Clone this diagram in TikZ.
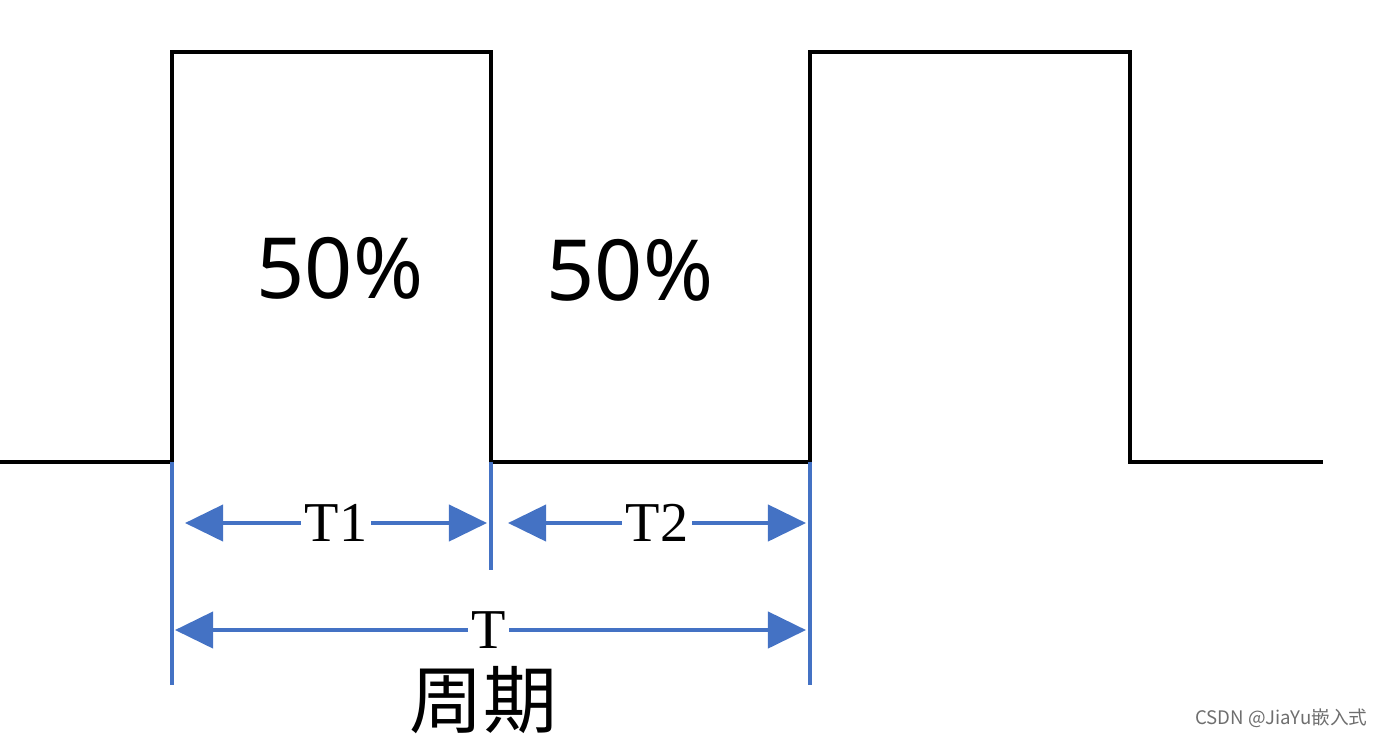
\documentclass[tikz,border=0pt]{standalone}
\usepackage{fontspec}
\setmainfont{Liberation Serif}
\newfontfamily\pctfont{Noto Sans}
\newfontfamily\cjkfont{Noto Sans CJK SC}
\usetikzlibrary{arrows.meta}

\begin{document}
\begin{tikzpicture}[x=0.01cm, y=-0.01cm, line cap=butt, line join=miter]

% Colors
\definecolor{dimblue}{RGB}{68,114,196}
\definecolor{markgray}{RGB}{110,110,110}

\tikzset{
  wave/.style={line width=1.4pt, black},
  guide/.style={line width=0.9pt, dimblue},
  dimarrow/.style={line width=1.2pt, dimblue,
    {Triangle[length=3.8mm, width=3.6mm]}-{Triangle[length=3.8mm, width=3.6mm]}},
  dimlabel/.style={fill=white, text=black, inner sep=1pt, font=\fontsize{16}{16}\selectfont},
  duty/.style={font=\pctfont\fontsize{24}{24}\selectfont},
}

\useasboundingbox (0,0) rectangle (1383,739);

% Waveform corners
\coordinate (w0) at (0,462);
\coordinate (r1a) at (172,462);
\coordinate (r1b) at (172,52);
\coordinate (f1a) at (491,52);
\coordinate (f1b) at (491,462);
\coordinate (r2a) at (810,462);
\coordinate (r2b) at (810,52);
\coordinate (f2a) at (1130,52);
\coordinate (f2b) at (1130,462);
\coordinate (w1) at (1323,462);

% Square wave
\draw[wave] (w0) -- (r1a) -- (r1b) -- (f1a) -- (f1b) -- (r2a) -- (r2b) -- (f2a) -- (f2b) -- (w1);

% Duty labels
\node[duty] (hi) at (340,268) {50\%};
\node[duty] (lo) at (630,270) {50\%};

% Guide lines
\coordinate (g1) at (172,685);
\coordinate (g2) at (491,570);
\coordinate (g3) at (810,685);
\draw[guide] (r1a) -- (g1);
\draw[guide] (f1b) -- (g2);
\draw[guide] (r2a) -- (g3);

% T1 and T2
\coordinate (t1l) at (185,523);
\coordinate (t1r) at (487,523);
\coordinate (t2l) at (508,523);
\coordinate (t2r) at (806,523);
\draw[dimarrow] (t1l) -- (t1r) node[dimlabel, pos=0.5] (t1) {T1};
\draw[dimarrow] (t2l) -- (t2r) node[dimlabel, pos=0.5] (t2) {T2};

% Full period
\coordinate (tl) at (175,630);
\coordinate (tr) at (806,630);
\draw[dimarrow] (tl) -- (tr) node[dimlabel, pos=0.497] (tt) {T};
\node[font=\cjkfont\fontsize{21}{21}\selectfont] (period) at (483,700) {周期};

% Watermark
\node[font=\cjkfont\fontsize{5.3}{5.3}\selectfont, text=markgray, anchor=east, inner sep=0pt] (mark) at (1368,718) {CSDN @JiaYu嵌入式};

\end{tikzpicture}
\end{document}
